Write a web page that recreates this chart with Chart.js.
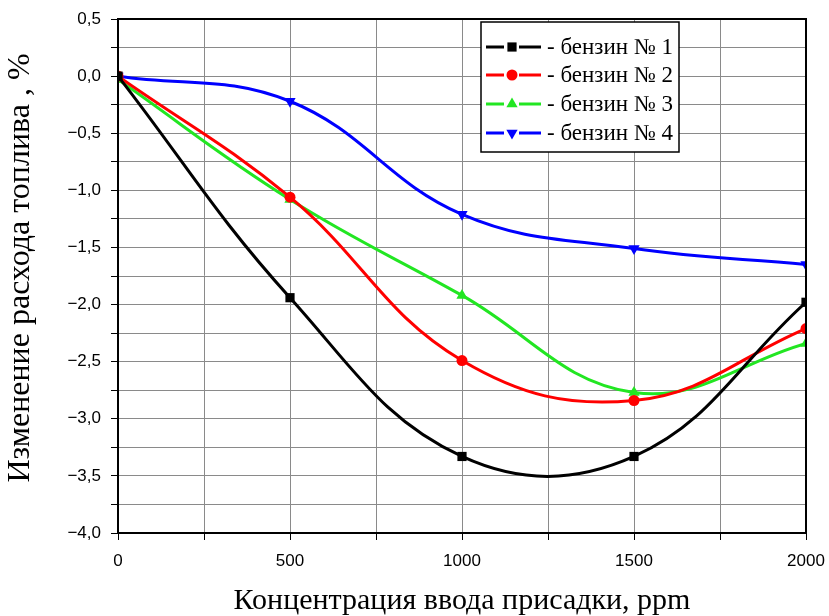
<!DOCTYPE html>
<html>
<head>
<meta charset="utf-8">
<script src="https://cdn.jsdelivr.net/npm/chart.js@4/dist/chart.umd.min.js"></script>
<style>
  html, body { margin: 0; padding: 0; background: #fff; }
  #wrap { width: 829px; height: 616px; }
</style>
</head>
<body>
<div id="wrap"><canvas id="fuelChart" width="829" height="616"></canvas></div>
<script>
/* data */
const ppm = [0, 500, 1000, 1500, 2000];
const benz1 = [0, -1.94, -3.33, -3.33, -1.98];
const benz2 = [0, -1.06, -2.49, -2.84, -2.21];
const benz3 = [-0.03, -1.08, -1.92, -2.77, -2.34];
const benz4 = [0, -0.22, -1.21, -1.51, -1.65];
const names = ['бензин № 1', 'бензин № 2', 'бензин № 3', 'бензин № 4'];

const xTitle = 'Концентрация ввода присадки, ppm';
const yTitle = 'Изменение расхода топлива , %';

const SERIF = '"Liberation Serif", "DejaVu Serif", serif';
const SANS = '"Liberation Sans", Arial, sans-serif';

const pts = ys => ppm.map((x, i) => ({ x, y: ys[i] }));

const mkSet = (label, ys, color, style, radius, rot) => ({
  label,
  data: pts(ys),
  borderColor: color,
  backgroundColor: color,
  borderWidth: 3,
  tension: 0.4,
  pointStyle: style,
  pointRotation: rot || 0,
  pointRadius: radius,
  pointHoverRadius: radius,
  pointBorderWidth: 0
});

const fmtComma = v => {
  const r = Math.round(v * 100) / 100;
  return r.toFixed(1).replace('.', ',').replace('-', '\u2212');
};

/* frame + y title + legend box */
const extras = {
  id: 'extras',
  afterDraw(chart) {
    const { ctx, chartArea: a } = chart;
    ctx.save();
    ctx.strokeStyle = '#000';
    ctx.lineWidth = 2;
    ctx.strokeRect(a.left, a.top, a.right - a.left, a.bottom - a.top);

    // y axis title
    ctx.fillStyle = '#000';
    ctx.font = '32px ' + SERIF;
    ctx.textAlign = 'center';
    ctx.textBaseline = 'alphabetic';
    ctx.translate(29, 268);
    ctx.rotate(-Math.PI / 2);
    ctx.fillText(yTitle, 0, 0);
    ctx.restore();

    // legend
    ctx.save();
    const bx = 481, by = 22, bw = 198, bh = 130;
    ctx.fillStyle = '#fff';
    ctx.fillRect(bx, by, bw, bh);
    ctx.strokeStyle = '#000';
    ctx.lineWidth = 1.5;
    ctx.strokeRect(bx, by, bw, bh);
    const rows = [47, 75, 104, 133];
    chart.data.datasets.forEach((ds, i) => {
      const y = rows[i];
      ctx.strokeStyle = ds.borderColor;
      ctx.lineWidth = 3;
      ctx.beginPath();
      ctx.moveTo(486, y);
      ctx.lineTo(504, y);
      ctx.moveTo(519, y);
      ctx.lineTo(541, y);
      ctx.stroke();
      ctx.fillStyle = ds.backgroundColor;
      Chart.helpers.drawPoint(ctx, {
        pointStyle: ds.pointStyle,
        rotation: ds.pointRotation,
        radius: ds.pointRadius,
        borderWidth: 0
      }, 512, y);
      ctx.fillStyle = '#000';
      ctx.font = '23px ' + SERIF;
      ctx.textAlign = 'left';
      ctx.textBaseline = 'middle';
      ctx.fillText('- ' + ds.label, 547, y + 1);
    });
    ctx.restore();
  }
};

const cvs = document.getElementById('fuelChart');
new Chart(cvs, {
  type: 'line',
  data: {
    datasets: [
      mkSet(names[0], benz1, '#000000', 'rect', 6.5),
      mkSet(names[1], benz2, '#ff0000', 'circle', 5.5),
      mkSet(names[2], benz3, '#22e622', 'triangle', 6.5),
      mkSet(names[3], benz4, '#0000ff', 'triangle', 6.5, 180)
    ]
  },
  options: {
    responsive: false,
    animation: false,
    layout: { padding: { top: 19, right: 23, left: 0, bottom: 0 } },
    plugins: {
      legend: { display: false },
      tooltip: { enabled: false }
    },
    scales: {
      x: {
        type: 'linear',
        min: 0, max: 2000,
        afterFit: s => { s.height = 83; s.paddingRight = 0; s.paddingLeft = 0; },
        grid: { color: '#8a8a8a', lineWidth: 1, tickLength: 7, tickColor: '#000' },
        border: { color: '#000', width: 2 },
        ticks: {
          stepSize: 250,
          padding: 11,
          color: '#000',
          font: { family: SANS, size: 17 },
          maxRotation: 0,
          autoSkip: false,
          callback: v => (v % 500 === 0 ? String(v) : '')
        },
        title: {
          display: true,
          text: xTitle,
          color: '#000',
          font: { family: SERIF, size: 30, lineHeight: 1 },
          padding: 0
        }
      },
      y: {
        min: -4, max: 0.5,
        afterFit: s => { s.width = 118; s.paddingTop = 0; s.paddingBottom = 0; },
        grid: { color: '#8a8a8a', lineWidth: 1, tickLength: 7, tickColor: '#000' },
        border: { color: '#000', width: 2 },
        ticks: {
          stepSize: 0.25,
          padding: 10,
          color: '#000',
          font: { family: SANS, size: 17 },
          autoSkip: false,
          callback: v => (Math.abs(Math.round(v * 100)) % 50 === 0 ? fmtComma(v) : '')
        }
      }
    }
  },
  plugins: [extras]
});
</script>
</body>
</html>
